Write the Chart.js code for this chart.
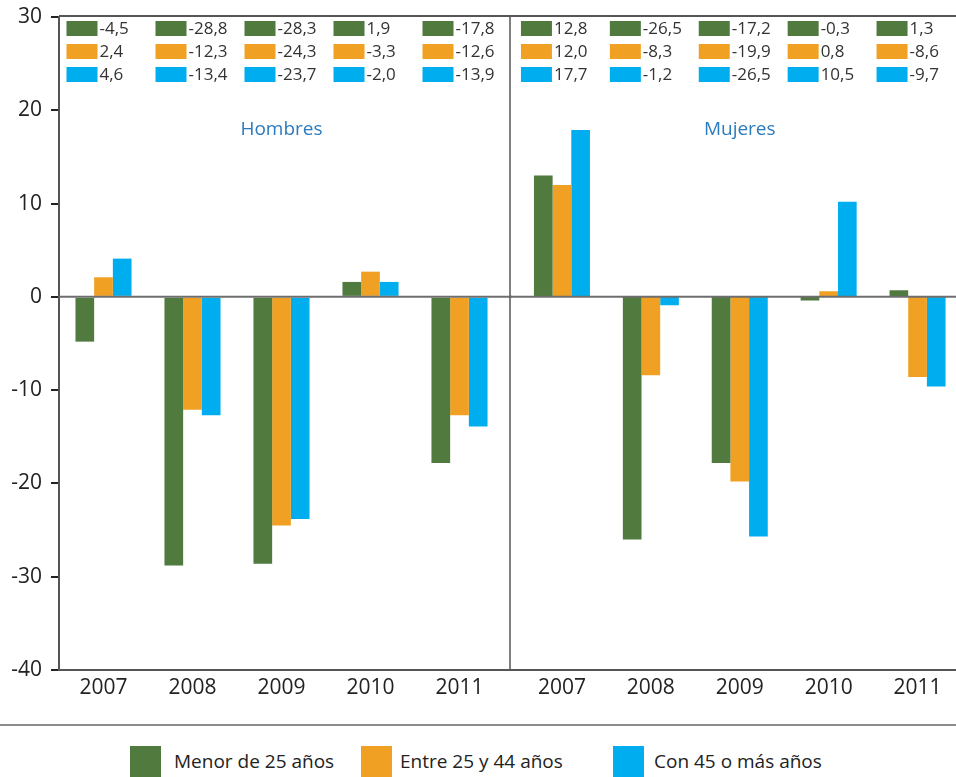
<!DOCTYPE html>
<html lang="es">
<head>
<meta charset="utf-8">
<script src="https://cdn.jsdelivr.net/npm/chart.js@4.4.1/dist/chart.umd.min.js"></script>
<style>
  html, body { margin: 0; padding: 0; background: #fff; overflow: hidden; }
  #wrap { position: relative; width: 956px; height: 777px; overflow: hidden; font-family: 'Open Sans', sans-serif; }
  canvas { position: absolute; top: 0; }
  #left { left: 0; }
  #right { left: 510px; }
  .rule { position: absolute; left: 0; top: 724px; width: 956px; height: 2px; background: #8c8c8c; }
  .sw { position: absolute; top: 746px; width: 31px; height: 32px; }
  .txt { position: absolute; top: 746px; height: 30px; line-height: 30px; font-size: 19px; color: #222; white-space: nowrap; }
</style>
</head>
<body>
<div id="wrap">
  <canvas id="left" width="512" height="710"></canvas>
  <canvas id="right" width="452" height="710"></canvas>
  <div class="rule"></div>
  <div class="sw" style="left:130px;background:#507a3e"></div>
  <div class="txt" style="left:174px">Menor de 25 años</div>
  <div class="sw" style="left:361px;background:#f0a124"></div>
  <div class="txt" style="left:400px">Entre 25 y 44 años</div>
  <div class="sw" style="left:613px;background:#00aeef"></div>
  <div class="txt" style="left:654px">Con 45 o más años</div>
</div>
<script>
const years = ['2007', '2008', '2009', '2010', '2011'];
const groups = ['Menor de 25 años', 'Entre 25 y 44 años', 'Con 45 o más años'];
const colors = ['#507a3e', '#f0a124', '#00aeef'];

// bar heights as drawn
const hombresMenor25 = [-4.8, -28.8, -28.6, 1.6, -17.8];
const hombres25a44 = [2.1, -12.1, -24.5, 2.7, -12.7];
const hombres45mas = [4.1, -12.7, -23.8, 1.6, -13.9];
const mujeresMenor25 = [13.0, -26.0, -17.8, -0.4, 0.7];
const mujeres25a44 = [12.0, -8.4, -19.8, 0.6, -8.6];
const mujeres45mas = [17.9, -0.9, -25.7, 10.2, -9.6];

// values printed in the table above the bars
const tablaHombresMenor25 = [-4.5, -28.8, -28.3, 1.9, -17.8];
const tablaHombres25a44 = [2.4, -12.3, -24.3, -3.3, -12.6];
const tablaHombres45mas = [4.6, -13.4, -23.7, -2.0, -13.9];
const tablaMujeresMenor25 = [12.8, -26.5, -17.2, -0.3, 1.3];
const tablaMujeres25a44 = [12.0, -8.3, -19.9, 0.8, -8.6];
const tablaMujeres45mas = [17.7, -1.2, -26.5, 10.5, -9.7];

const FONT = "'Open Sans', sans-serif";
const fmt = (v) => v.toFixed(1).replace('.', ',');

function line(ctx, x1, y1, x2, y2) {
  ctx.beginPath();
  ctx.moveTo(x1, y1);
  ctx.lineTo(x2, y2);
  ctx.stroke();
}

const panelPlugin = {
  id: 'panel',
  afterDatasetsDraw(chart, args, opts) {
    const { ctx, chartArea, scales } = chart;
    const x = scales.x, y = scales.y;
    ctx.save();
    // zero line
    ctx.strokeStyle = '#6e6e6e';
    ctx.lineWidth = 2;
    const y0 = y.getPixelForValue(0);
    line(ctx, opts.frameLeft, y0, opts.frameRight, y0);
    // frame
    ctx.strokeStyle = '#555';
    ctx.lineWidth = 2;
    line(ctx, opts.frameLeft, chartArea.top - 1, opts.frameRight, chartArea.top - 1);
    line(ctx, opts.frameLeft, chartArea.bottom, opts.frameRight, chartArea.bottom);
    if (opts.divider != null) {
      ctx.lineWidth = 1.5;
      line(ctx, opts.divider, chartArea.top - 1, opts.divider, chartArea.bottom);
    }
    // panel title
    ctx.fillStyle = '#2b7bbf';
    ctx.font = '19px ' + FONT;
    ctx.textAlign = 'center';
    ctx.textBaseline = 'middle';
    ctx.fillText(opts.title, x.getPixelForValue(2), 130);
    // data table
    ctx.font = '17px ' + FONT;
    ctx.textAlign = 'left';
    opts.table.forEach((row, r) => {
      row.forEach((v, i) => {
        const sx = x.getPixelForValue(i) + opts.swatchOffset;
        const sy = 21 + r * 23;
        ctx.fillStyle = colors[r];
        ctx.fillRect(sx, sy, 31, 15);
        ctx.fillStyle = '#333';
        ctx.fillText(fmt(v), sx + 33, sy + 8);
      });
    });
    ctx.restore();
  }
};

function makeChart(id, series, panel, showY, padding) {
  return new Chart(document.getElementById(id), {
    type: 'bar',
    data: {
      labels: years,
      datasets: series.map((d, i) => ({
        label: groups[i],
        data: d,
        backgroundColor: colors[i],
        categoryPercentage: 0.63,
        barPercentage: 1
      }))
    },
    options: {
      responsive: false,
      animation: false,
      layout: { padding: padding },
      plugins: {
        legend: { display: false },
        tooltip: { enabled: false },
        title: { display: false },
        panel: panel
      },
      scales: {
        x: {
          grid: { display: false, drawTicks: false },
          border: { display: false },
          ticks: { color: '#222', font: { family: FONT, size: 21 }, padding: 5 },
          afterFit: (s) => { s.height = 40; s.paddingLeft = 0; s.paddingRight = 0; }
        },
        y: {
          display: showY,
          min: -40,
          max: 30,
          grid: { drawOnChartArea: false, drawTicks: true, tickLength: 8, color: '#222', lineWidth: 2 },
          border: { display: true, color: '#555', width: 2 },
          ticks: { stepSize: 10, color: '#222', font: { family: FONT, size: 21 }, padding: 9 },
          afterFit: (s) => {
            s.width = showY ? 59 : 0;
            s.paddingTop = 0;
            s.paddingBottom = 0;
          }
        }
      }
    },
    plugins: [panelPlugin]
  });
}

makeChart('left', [hombresMenor25, hombres25a44, hombres45mas], {
  title: 'Hombres',
  table: [tablaHombresMenor25, tablaHombres25a44, tablaHombres45mas],
  swatchOffset: -37,
  frameLeft: 59,
  frameRight: 512,
  divider: 510
}, true, { top: 17, right: 8, bottom: 0, left: 0 });

makeChart('right', [mujeresMenor25, mujeres25a44, mujeres45mas], {
  title: 'Mujeres',
  table: [tablaMujeresMenor25, tablaMujeres25a44, tablaMujeres45mas],
  swatchOffset: -41,
  frameLeft: 0,
  frameRight: 452,
  divider: null
}, false, { top: 17, right: 0, bottom: 0, left: 7.5 });
</script>
</body>
</html>
